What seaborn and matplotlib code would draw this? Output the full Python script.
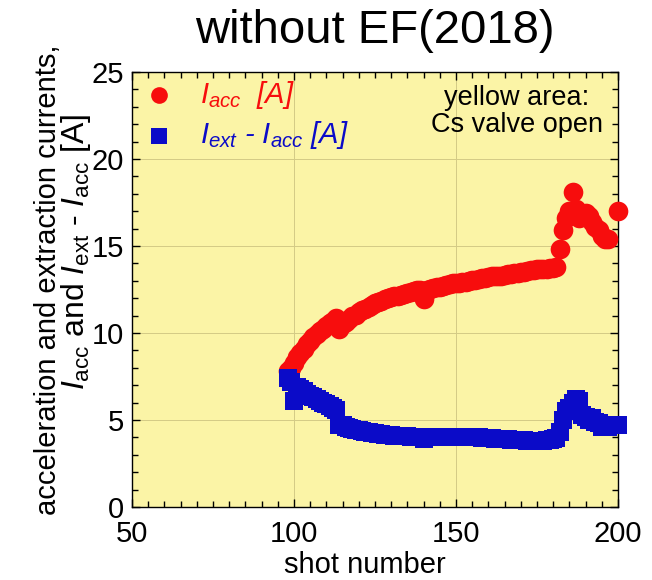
import matplotlib
matplotlib.use("Agg")
import matplotlib.pyplot as plt
from matplotlib.ticker import MultipleLocator
import pandas as pd
import seaborn as sns

# Acceleration current I_acc per shot
shots_acc = list(range(98, 198)) + [200]
i_acc = [
    7.8, 8.0, 8.3, 8.6, 8.85, 9.1, 9.35, 9.55, 9.75, 9.95,          # 98-107
    10.1, 10.25, 10.4, 10.55, 10.7, 10.85, 10.25, 10.5, 10.65, 10.8,  # 108-117
    10.95, 11.05, 11.2, 11.3, 11.4, 11.5, 11.6, 11.7, 11.8, 11.85,    # 118-127
    11.95, 12.0, 12.05, 12.1, 12.15, 12.2, 12.25, 12.3, 12.35, 12.4,  # 128-137
    12.45, 12.45, 11.95, 12.5, 12.55, 12.6, 12.65, 12.65, 12.7, 12.75,  # 138-147
    12.8, 12.85, 12.85, 12.9, 12.95, 12.95, 13.0, 13.05, 13.05, 13.1,   # 148-157
    13.15, 13.15, 13.2, 13.25, 13.25, 13.3, 13.3, 13.35, 13.4, 13.4,    # 158-167
    13.45, 13.45, 13.5, 13.5, 13.55, 13.6, 13.6, 13.65, 13.65, 13.7,    # 168-177
    13.7, 13.75, 13.75, 13.8, 14.8, 15.9, 16.6, 17.0, 18.1, 17.1,       # 178-187
    16.6, 16.8, 16.9, 16.7, 16.4, 16.1, 15.9, 15.6, 15.4, 15.4,         # 188-197
    17.0,                                                               # 200
]

# Difference I_ext - I_acc per shot
shots_diff = list(range(98, 198)) + [200]
i_diff = [
    7.4, 7.2, 6.1, 6.9, 6.8, 6.65, 6.5, 6.4, 6.3, 6.2,               # 98-107
    6.1, 6.0, 5.9, 5.8, 5.7, 5.6, 4.7, 4.7, 4.6, 4.55,                # 108-117
    4.5, 4.45, 4.4, 4.35, 4.3, 4.3, 4.25, 4.25, 4.2, 4.2,             # 118-127
    4.15, 4.15, 4.15, 4.1, 4.1, 4.1, 4.1, 4.1, 4.05, 4.05,            # 128-137
    4.05, 4.05, 3.9, 4.05, 4.05, 4.05, 4.05, 4.05, 4.05, 4.05,        # 138-147
    4.05, 4.05, 4.05, 4.0, 4.0, 4.0, 4.0, 4.0, 4.0, 4.0,              # 148-157
    3.95, 3.95, 3.95, 3.95, 3.9, 3.9, 3.9, 3.9, 3.9, 3.85,            # 158-167
    3.85, 3.85, 3.85, 3.85, 3.8, 3.8, 3.8, 3.8, 3.8, 3.8,             # 168-177
    3.85, 3.85, 3.9, 3.95, 4.3, 5.0, 5.5, 5.7, 6.0, 6.2,              # 178-187
    6.1, 5.3, 5.2, 5.0, 5.1, 4.9, 4.8, 4.6, 4.7, 4.6,                 # 188-197
    4.7,                                                              # 200
]

x_ticks = [50, 100, 150, 200]
y_ticks = [0, 5, 10, 15, 20, 25]

red = "#F70D0D"
blue = "#0B0BC8"
panel = "#FBF4A6"
grid_col = "#D3CA86"

sns.set_style("ticks")
plt.rcParams["font.family"] = ["Liberation Sans", "DejaVu Sans"]
plt.rcParams["mathtext.fontset"] = "custom"
plt.rcParams["mathtext.rm"] = "Liberation Sans"
plt.rcParams["mathtext.it"] = "Liberation Sans:italic"
plt.rcParams["mathtext.bf"] = "Liberation Sans:bold"
plt.rcParams["text.color"] = "black"
plt.rcParams["xtick.color"] = "black"
plt.rcParams["ytick.color"] = "black"
plt.rcParams["axes.labelcolor"] = "black"

fig = plt.figure(figsize=(6.52, 5.80), dpi=100)
fig.patch.set_facecolor("white")
W, H = 652, 580
ax = fig.add_axes([132 / W, 73 / H, 486 / W, 435 / H])
ax.set_facecolor(panel)

df_acc = pd.DataFrame({"shot": shots_acc, "current": i_acc})
df_diff = pd.DataFrame({"shot": shots_diff, "current": i_diff})

sns.scatterplot(data=df_acc, x="shot", y="current", ax=ax, marker="o", s=200,
                color=red, linewidth=0, clip_on=False, zorder=3,
                label=r"$I_{acc}$  [A]")
sns.scatterplot(data=df_diff, x="shot", y="current", ax=ax, marker="s", s=170,
                color=blue, linewidth=0, clip_on=False, zorder=4,
                label=r"$I_{ext}$ - $I_{acc}$ [A]")

ax.set_xlim(50, 200)
ax.set_ylim(0, 25)
ax.set_xticks(x_ticks)
ax.set_yticks(y_ticks)
ax.xaxis.set_minor_locator(MultipleLocator(5))
ax.yaxis.set_minor_locator(MultipleLocator(1))
ax.tick_params(which="both", direction="in", top=True, right=True,
               color="black", width=1)
ax.tick_params(which="major", length=6, labelsize=21, labelcolor="black")
ax.tick_params(which="minor", length=4)
ax.tick_params(axis="x", which="major", pad=9)
ax.tick_params(axis="y", which="major", pad=6)
ax.grid(True, which="major", color=grid_col, linewidth=0.7)
ax.set_axisbelow(True)
for sp in ax.spines.values():
    sp.set_color("black")
    sp.set_linewidth(1)

ax.set_xlabel("")
ax.set_ylabel("")
fig.text(365 / W, 1 - 565 / H, "shot number", fontsize=21,
         ha="center", va="center")
fig.text(48 / W, 1 - 280 / H, "acceleration and extraction currents,",
         fontsize=21, rotation=90, ha="center", va="center")
fig.text(76 / W, 1 - 252 / H,
         r"$I_{\mathrm{acc}}$ and $I_{\mathrm{ext}}$ - $I_{\mathrm{acc}}$ [A]",
         fontsize=23, rotation=90, ha="center", va="center")

fig.text(375 / W, 1 - 31 / H, "without EF(2018)", fontsize=34,
         ha="center", va="center")

fig.text(517 / W, 1 - 105 / H, "yellow area:", fontsize=19.5,
         ha="center", va="baseline")
fig.text(517 / W, 1 - 132 / H, "Cs valve open", fontsize=19.5,
         ha="center", va="baseline")

leg = ax.legend(loc="upper left", bbox_to_anchor=(0.026, 0.985),
                frameon=False, handlelength=1.0, markerscale=0.85,
                handletextpad=0.9, borderpad=0, borderaxespad=0,
                labelspacing=0.3, prop={"style": "italic", "size": 21})
for txt, c in zip(leg.get_texts(), [red, blue]):
    txt.set_color(c)

fig.savefig("out.png", dpi=100)
